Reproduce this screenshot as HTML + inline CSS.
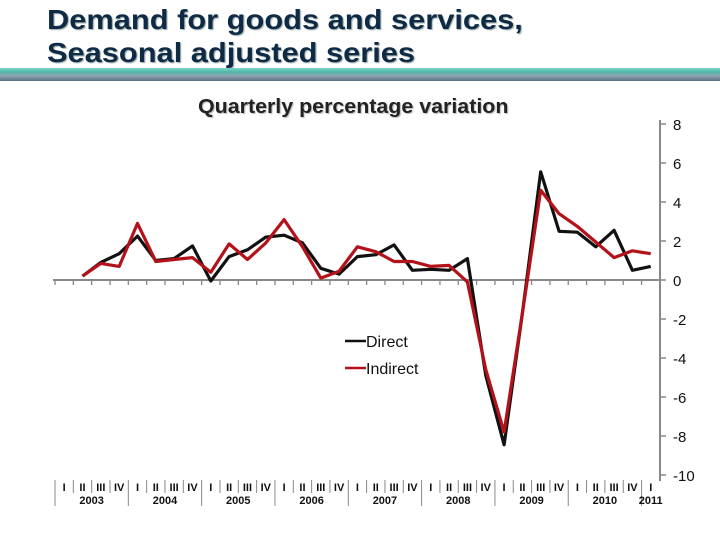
<!DOCTYPE html>
<html><head><meta charset="utf-8"><style>
body{margin:0;width:720px;height:540px;background:#fff;overflow:hidden;font-family:"Liberation Sans",Arial,sans-serif}
#title{position:absolute;left:47px;top:3px;font-size:28px;line-height:33px;color:#0f2a45;text-shadow:1px 1px 1px #9aa;margin:0;font-weight:bold;transform:scaleX(1.1);transform-origin:0 0;white-space:nowrap}
#band{position:absolute;left:0;top:68px;width:720px;height:13px;background:linear-gradient(#7fd8c8,#4fb7a8 30%,#8fa6b4 60%,#5a6f86)}
#sub{position:absolute;left:198px;top:96px;font-size:20px;font-weight:bold;color:#222;text-shadow:1px 1px 1px #bbb;transform:scaleX(1.07);transform-origin:0 0;white-space:nowrap}
</style></head><body>
<h1 id="title">Demand for goods and services,<br>Seasonal adjusted series</h1>
<div id="band"></div>
<div id="sub">Quarterly percentage variation</div>
<svg id="chart" width="720" height="540" style="position:absolute;left:0;top:0"></svg>
<script>
const years=["2003","2004","2005","2006","2007","2008","2009","2010","2011"];
const quarters=["I","II","III","IV"];
const yTicks=[8,6,4,2,0,-2,-4,-6,-8,-10];
const direct=[0.2,0.9,1.35,2.25,1.0,1.1,1.75,-0.05,1.2,1.55,2.2,2.3,1.9,0.6,0.3,1.2,1.3,1.8,0.5,0.55,0.5,1.1,-4.9,-8.45,-1.7,5.55,2.5,2.45,1.7,2.55,0.5,0.7];
const indirect=[0.2,0.85,0.7,2.9,0.95,1.05,1.15,0.4,1.85,1.05,1.9,3.1,1.7,0.1,0.45,1.7,1.45,0.95,0.95,0.7,0.75,-0.1,-4.6,-7.8,-1.7,4.6,3.4,2.75,1.95,1.15,1.5,1.35];
const NS="http://www.w3.org/2000/svg";
const svg=document.getElementById('chart');
const x0=55,qw=18.33,nQ=33;
function xq(i){return x0+qw*(i+0.5);}
function yv(v){return 280-v*19.5;}
function mk(t,a,p){const e=document.createElementNS(NS,t);for(const k in a)e.setAttribute(k,a[k]);(p||svg).appendChild(e);return e;}
let ax=mk('line',{x1:53,x2:660,y1:yv(0),y2:yv(0),stroke:'#888','stroke-width':2});


for(let i=0;i<=nQ;i++){let t=mk('line',{x1:x0+qw*i,x2:x0+qw*i,y1:yv(0),y2:yv(0)+5,stroke:'#888','stroke-width':1.3});

}
let ya=mk('line',{x1:660,x2:660,y1:yv(8)-4,y2:yv(-10)+6,stroke:'#888','stroke-width':2});


yTicks.forEach(v=>{let t=mk('line',{x1:660,x2:666,y1:yv(v),y2:yv(v),stroke:'#888','stroke-width':1.5});


let l=mk('text',{x:673,y:yv(v)+6,'font-size':15,fill:'#111'});l.textContent=v;

});
for(let i=0;i<nQ;i++){let l=mk('text',{x:xq(i),y:491,'font-size':11,'font-weight':'bold','text-anchor':'middle',fill:'#111'});l.textContent=quarters[i%4];


let s=mk('line',{x1:x0+qw*i,x2:x0+qw*i,y1:480,y2:i%4==0?506:493,stroke:'#888','stroke-width':1});

}
years.forEach((y,k)=>{let cx=k<8?x0+qw*(4*k+2):xq(32);let l=mk('text',{x:cx,y:504,'font-size':11,'font-weight':'bold','text-anchor':'middle',fill:'#111'});l.textContent=y;

});
function series(d,col,name){let pts=d.map((v,i)=>xq(i+1).toFixed(1)+','+yv(v).toFixed(1)).join(' ');
let p=mk('polyline',{points:pts,fill:'none',stroke:col,'stroke-width':3.2,'stroke-linejoin':'round'});

}
series(direct,'#111','direct-line');
series(indirect,'#b3121b','indirect-line');
[['Direct','#111',341],['Indirect','#b3121b',368]].forEach(([n,c,y])=>{
let g=mk('g',{});


mk('line',{x1:345,x2:366,y1:y,y2:y,stroke:c,'stroke-width':2.5},g);
let t=mk('text',{x:366,y:y+6,'font-size':16,fill:'#111'},g);t.textContent=n;});
</script>
</body></html>
